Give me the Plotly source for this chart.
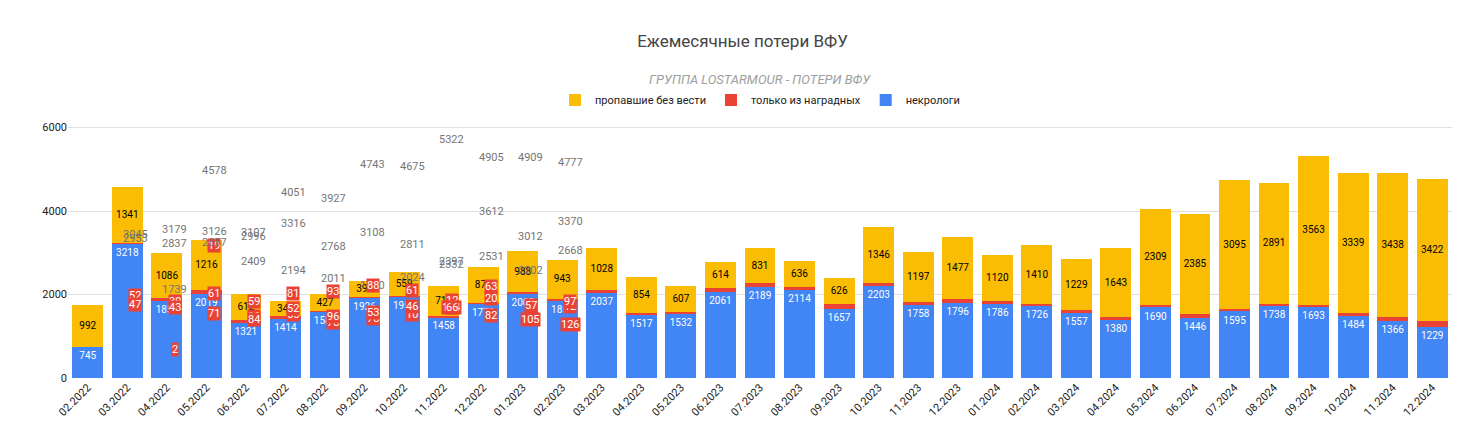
import plotly.graph_objects as go

months = ["02.2022","03.2022","04.2022","05.2022","06.2022","07.2022","08.2022","09.2022","10.2022","11.2022","12.2022",
          "01.2023","02.2023","03.2023","04.2023","05.2023","06.2023","07.2023","08.2023","09.2023","10.2023","11.2023","12.2023",
          "01.2024","02.2024","03.2024","04.2024","05.2024","06.2024","07.2024","08.2024","09.2024","10.2024","11.2024","12.2024"]
necro = [745,3218,1851,2019,1321,1414,1587,1926,1952,1458,1779,2005,1855,2037,1517,1532,2061,2189,2114,1657,2203,1758,1796,
         1786,1726,1557,1380,1690,1446,1595,1738,1693,1484,1366,1229]
awards = [2,19,59,81,78,78,10,12,20,33,12,52,39,61,38,55,93,88,61,114,63,57,97,47,43,71,84,52,96,53,46,66,82,105,126]
missing = [992,1341,1086,1216,612,348,427,394,559,711,877,988,943,1028,854,607,614,831,636,626,1346,1197,1477,
           1120,1410,1229,1643,2309,2385,3095,2891,3563,3339,3438,3422]
totals = [a + b + c for a, b, c in zip(necro, awards, missing)]

fig = go.Figure()
fig.add_bar(x=months, y=necro, name="некрологи", marker_color="#4285f4",
            text=necro, textposition="inside", insidetextanchor="end",
            textfont=dict(color="white", size=11))
fig.add_bar(x=months, y=awards, name="только из наградных", marker_color="#ea4335",
            hoverinfo="y")
fig.add_bar(x=months, y=missing, name="пропавшие без вести", marker_color="#fbbc04",
            text=missing, textposition="inside", insidetextanchor="middle",
            textfont=dict(color="black", size=11))
fig.update_traces(marker_line_width=0)
for m, n, a, t in zip(months, necro, awards, totals):
    fig.add_annotation(x=m, y=t, text=str(t), showarrow=False, yshift=16,
                       font=dict(color="#757575", size=11))
    fig.add_annotation(x=m, y=n + a, text=str(a), showarrow=False, yshift=-3,
                       bgcolor="#ea4335", borderpad=0,
                       font=dict(color="white", size=11))

fig.add_annotation(x=0.5, y=1.17, xref="paper", yref="paper", showarrow=False,
                   text="<i>ГРУППА LOSTARMOUR - ПОТЕРИ ВФУ</i>",
                   font=dict(size=13, color="#9e9e9e"))

fig.update_layout(
    barmode="stack", bargap=0.22, width=1469, height=447,
    paper_bgcolor="white", plot_bgcolor="white",
    font=dict(family="Roboto, Arial", size=11, color="#222"),
    title=dict(text="Ежемесячные потери ВФУ", x=0.5, y=0.925, xanchor="center",
               yanchor="middle", font=dict(size=17, color="#444")),
    legend=dict(orientation="h", x=0.5, xanchor="center", y=1.057, yanchor="middle",
                traceorder="reversed", font=dict(size=11)),
    margin=dict(l=60, r=25, t=107, b=77),
    uniformtext=dict(minsize=9, mode="show"),
)
fig.update_yaxes(range=[0, 6300], tickvals=[0, 2000, 4000, 6000], gridcolor="#e0e0e0",
                 zeroline=False, ticks="", tickfont=dict(color="#222"))
fig.update_xaxes(type="category", tickangle=-45, tickfont=dict(size=11))
fig.write_html("out.html")
